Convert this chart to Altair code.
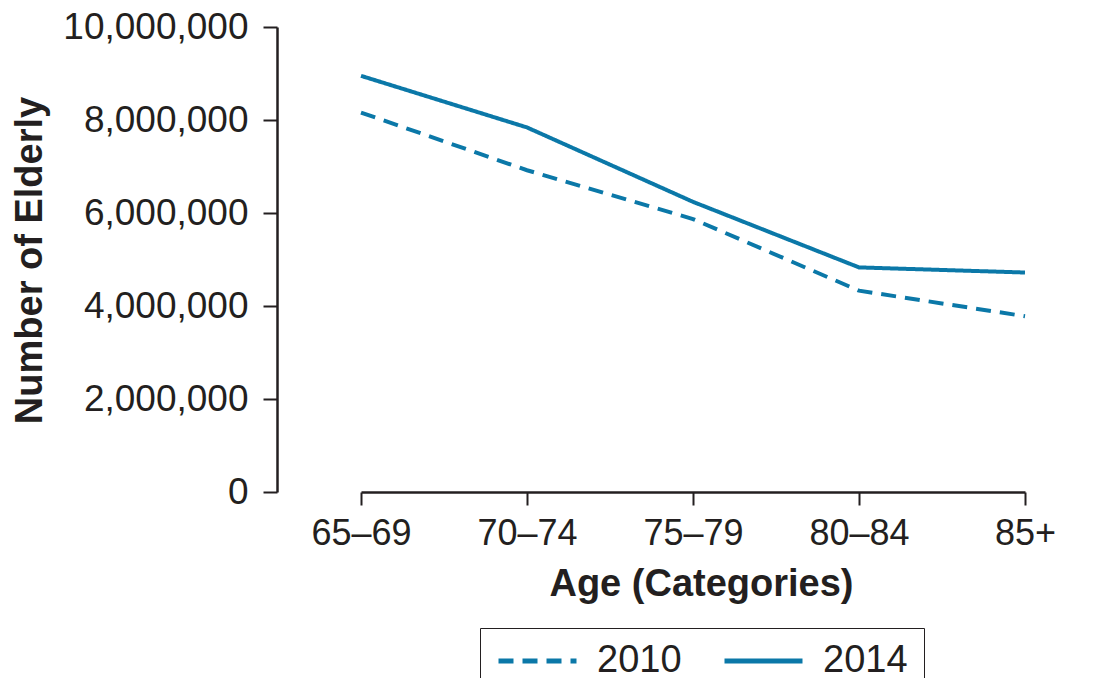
import altair as alt
import pandas as pd

ages = ["65–69", "70–74", "75–79", "80–84", "85+"]
years = ["2010", "2014"]
values_2010 = [8160000, 6920000, 5870000, 4330000, 3780000]
values_2014 = [8950000, 7840000, 6240000, 4830000, 4720000]
y_ticks = [0, 2000000, 4000000, 6000000, 8000000, 10000000]

rows = []
for a, v in zip(ages, values_2010):
    rows.append({"age": a, "year": "2010", "value": v})
for a, v in zip(ages, values_2014):
    rows.append({"age": a, "year": "2014", "value": v})
df = pd.DataFrame(rows)

LINE = "#0b78a8"
TXT = "#231f20"
FONT = "Liberation Sans"

chart = alt.Chart(df).mark_line(color=LINE, strokeWidth=4).encode(
    x=alt.X(
        "age:N",
        sort=ages,
        scale=alt.Scale(type="point", domain=ages, range=[84, 748], padding=0),
        axis=alt.Axis(
            title="Age (Categories)",
            labelAngle=0,
            labelFontSize=36,
            labelColor=TXT,
            labelPadding=11,
            tickSize=13,
            tickWidth=2,
            tickColor=TXT,
            domainColor=TXT,
            domainWidth=2.5,
            titleFontSize=38,
            titleFontWeight="bold",
            titleColor=TXT,
            titleX=424,
            titleY=103,
            titleBaseline="alphabetic",
            titleAlign="center",
            grid=False,
        ),
    ),
    y=alt.Y(
        "value:Q",
        scale=alt.Scale(domain=[0, 10000000], nice=False),
        axis=alt.Axis(
            title="Number of Elderly",
            values=y_ticks,
            format=",d",
            labelFontSize=37,
            labelColor=TXT,
            labelPadding=15,
            labelLimit=400,
            tickSize=14,
            tickWidth=2,
            tickColor=TXT,
            domainColor=TXT,
            domainWidth=2.5,
            titleFontSize=38,
            titleFontWeight="bold",
            titleColor=TXT,
            titleX=-247,
            titleY=233,
            titleAngle=270,
            titleBaseline="middle",
            titleAlign="center",
            grid=False,
        ),
    ),
    strokeDash=alt.StrokeDash(
        "year:N",
        scale=alt.Scale(domain=years, range=[[15, 9], [1, 0]]),
        legend=alt.Legend(
            title=None,
            orient="none",
            direction="horizontal",
            legendX=203,
            legendY=601,
            padding=16,
            strokeColor=TXT,
            symbolType="stroke",
            symbolSize=6084,
            symbolStrokeWidth=5,
            symbolStrokeColor=LINE,
            clipHeight=34,
            labelFontSize=38,
            labelColor=TXT,
            labelOffset=18,
            columnPadding=40,
        ),
    ),
).properties(
    width=825,
    height=465,
    autosize=alt.AutoSizeParams(type="none"),
    padding={"left": 269, "top": 19, "right": 0, "bottom": 186},
).configure(
    font=FONT,
).configure_view(
    stroke=None,
)

chart.save("out.html", embed_options={"renderer": "svg", "actions": False})
